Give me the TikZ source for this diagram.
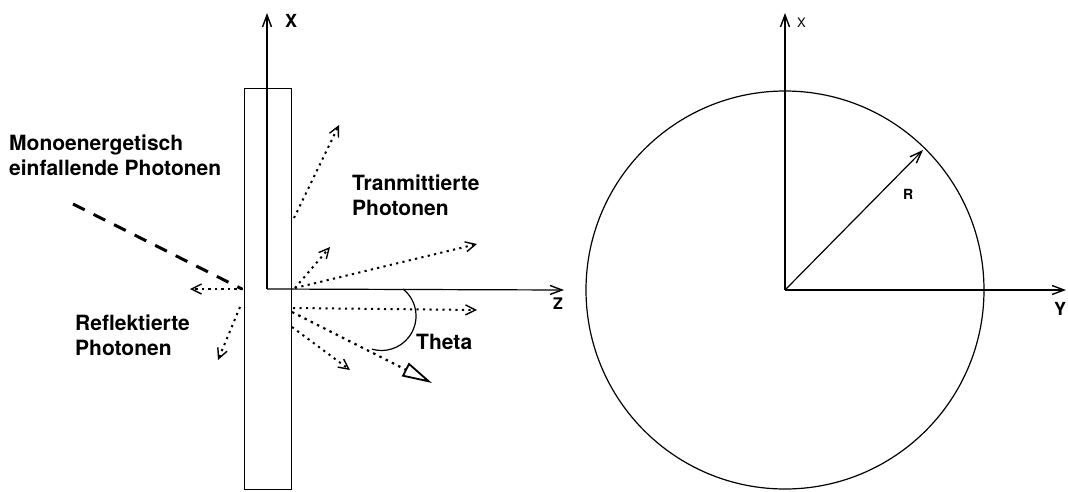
\documentclass[tikz,border=0pt]{standalone}
\usepackage{fontspec}
\setmainfont{TeX Gyre Heros}
\usetikzlibrary{arrows.meta}
\tikzset{
  thinline/.style={line width=1.2pt},
  axis/.style={line width=1.2pt,-{Straight Barb[length=12pt,width=9pt,line width=1.4pt]}},
  photon/.style={line width=2pt,dash pattern=on 2.2pt off 4.3pt,-{Straight Barb[length=10pt,width=10pt,line width=1.4pt]}},
  bigphoton/.style={line width=2.2pt,dash pattern=on 2.5pt off 4.5pt,-{Triangle[open,length=30pt,width=15pt,line width=1.8pt]}},
  incident/.style={line width=3pt,dash pattern=on 13pt off 10pt},
  lbl/.style={inner sep=0pt,anchor=base west,font=\fontsize{21}{24.5}\selectfont\bfseries,align=left},
  smalllbl/.style={inner sep=0pt,anchor=base west,font=\fontsize{14}{16}\selectfont},
}
\begin{document}
\begin{tikzpicture}[x=1pt,y=-1pt]
\useasboundingbox (0,0) rectangle (1068,491);
% ---------- left: slab ----------
\node[draw,thinline,minimum width=47pt,minimum height=401pt,inner sep=0pt,anchor=north west] (slab) at (244,88) {};
\coordinate (O) at (267,289);
\coordinate (Xtip) at (267,13);
\coordinate (Ztip) at (564,290);
\draw[axis] (O) -- (Xtip);
\draw[axis] (O) -- (Ztip);
\node[lbl,font=\fontsize{18}{20}\selectfont\bfseries] (xl) at (285,27) {X};
\node[lbl,font=\fontsize{16}{18}\selectfont\bfseries] (zl) at (553,309) {Z};
% incident
\coordinate (in0) at (73,204);
\coordinate (in1) at (242,289);
\draw[incident] (in0) -- (in1);
% reflected
\coordinate (r0s) at (243,289); \coordinate (r0e) at (190,289);
\coordinate (r1s) at (240,307); \coordinate (r1e) at (218,360);
\draw[photon] (r0s) -- (r0e);
\draw[photon] (r1s) -- (r1e);
% transmitted
\coordinate (t1s) at (294,218); \coordinate (t1e) at (339,125);
\coordinate (t2s) at (295,288); \coordinate (t2e) at (330,247);
\coordinate (t3s) at (295,288); \coordinate (t3e) at (477,244);
\coordinate (t4s) at (293,308); \coordinate (t4e) at (477,310);
\coordinate (t5s) at (292,312); \coordinate (t5e) at (432,383);
\coordinate (t6s) at (292,327); \coordinate (t6e) at (350,370);
\draw[photon] (t1s) -- (t1e);
\draw[photon] (t2s) -- (t2e);
\draw[photon] (t3s) -- (t3e);
\draw[photon] (t4s) -- (t4e);
\draw[photon] (t6s) -- (t6e);
\draw[bigphoton] (t5s) -- (t5e);
% theta arc
\coordinate (th0) at (403,289);
\draw[thinline] (th0) arc[start angle=51.5,end angle=-106,radius=34.5pt];
\node[lbl] (theta) at (416,349) {Theta};
% texts (base anchor = last line)
\node[lbl] (mono) at (9,175) {Monoenergetisch\\einfallende Photonen};
\node[lbl] (trans) at (352,215) {Tranmittierte\\Photonen};
\node[lbl] (refl) at (75,355) {Reflektierte\\Photonen};
% ---------- right: circle ----------
\coordinate (C) at (785,290);
\draw[thinline] (C) circle[radius=199pt];
\coordinate (X2tip) at (785,13);
\coordinate (Ytip) at (1066,290);
\coordinate (Rtip) at (923,150);
\draw[axis] (C) -- (X2tip);
\draw[axis] (C) -- (Ytip);
\draw[axis] (C) -- (Rtip);
\node[smalllbl,font=\fontsize{13}{15}\selectfont] (x2l) at (797,27) {X};
\node[smalllbl,font=\fontsize{14}{16}\selectfont\bfseries] (rl) at (903,199) {R};
\node[lbl,font=\fontsize{18}{20}\selectfont\bfseries] (yl) at (1054,315) {Y};
\end{tikzpicture}
\end{document}
